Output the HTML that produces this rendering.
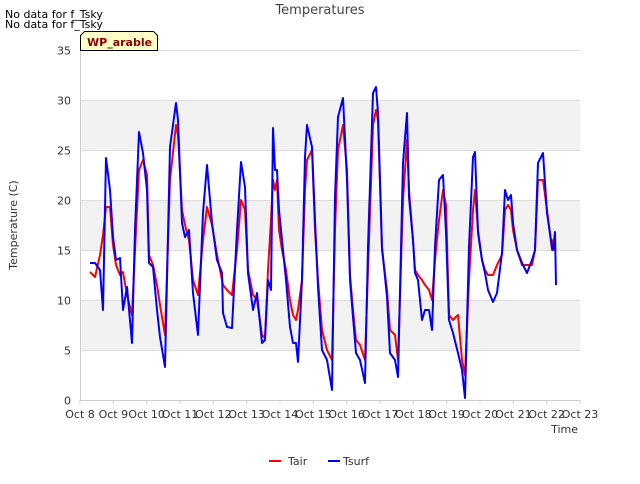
<!DOCTYPE html>
<html><head><meta charset="utf-8"><style>
body{margin:0;background:#fff;font-family:"DejaVu Sans","Liberation Sans",sans-serif;}
svg text{font-family:"DejaVu Sans","Liberation Sans",sans-serif;}
</style></head><body>
<svg id="chart" width="640" height="480" xmlns="http://www.w3.org/2000/svg">
<rect width="640" height="480" fill="#fff"/>
<g id="bands"></g>
<g id="grid"></g>
<g id="axes"></g>
<g id="series"></g>
<text x="5" y="18" font-size="11" fill="#000">No data for f_Tsky</text>
<text x="5" y="28" font-size="11" fill="#000">No data for f_Tsky</text>
<text x="320" y="14" font-size="13" fill="#444" text-anchor="middle">Temperatures</text>
<text transform="translate(17,225) rotate(-90)" font-size="11" fill="#333" text-anchor="middle">Temperature (C)</text>
<text x="578" y="433" font-size="11" fill="#333" text-anchor="end">Time</text>
<g>
<path d="M80.5,50.5 L80.5,35.5 L84.5,31.5 L153.5,31.5 L157.5,35.5 L157.5,50.5 Z" fill="#ffffc8" stroke="#000" stroke-width="1"/>
<text x="87" y="46" font-size="11" font-weight="bold" fill="#8b0000">WP_arable</text>
</g>
<g>
<line x1="269" y1="461" x2="281" y2="461" stroke="#f00" stroke-width="2"/>
<text x="288" y="465" font-size="11" fill="#333">Tair</text>
<line x1="328" y1="461" x2="340" y2="461" stroke="#00f" stroke-width="2"/>
<text x="343" y="465" font-size="11" fill="#333">Tsurf</text>
</g>
</svg>
<script>
const times=[0.30,0.45,0.60,0.69,0.78,0.90,0.99,1.08,1.20,1.29,1.41,1.56,1.65,1.77,1.89,2.01,2.07,2.19,2.31,2.40,2.55,2.70,2.88,2.94,3.06,3.15,3.27,3.39,3.54,3.69,3.81,3.96,4.11,4.26,4.29,4.41,4.56,4.71,4.83,4.95,5.04,5.19,5.31,5.46,5.55,5.64,5.73,5.79,5.85,5.91,5.97,6.06,6.18,6.30,6.39,6.48,6.54,6.66,6.75,6.81,6.96,7.05,7.14,7.26,7.41,7.56,7.65,7.74,7.89,8.01,8.10,8.19,8.28,8.40,8.55,8.64,8.79,8.88,8.94,9.06,9.21,9.30,9.45,9.54,9.69,9.81,9.87,9.99,10.05,10.14,10.26,10.35,10.47,10.56,10.65,10.77,10.89,10.98,11.07,11.19,11.34,11.46,11.55,11.67,11.79,11.85,11.94,12.06,12.15,12.24,12.39,12.51,12.66,12.75,12.84,12.93,12.99,13.11,13.26,13.41,13.56,13.65,13.74,13.89,14.01,14.16,14.19,14.25,14.28];
const tsurf=[13.7,13.7,13.0,9.0,24.2,21,16.3,14,14.2,9,11.3,5.7,17,26.8,24.7,21,13.7,13.3,9,6.3,3.3,25.3,29.7,28,17.7,16.3,17,10.7,6.5,18.7,23.5,17.7,14,12.7,8.7,7.3,7.2,17,23.8,21.3,12.7,9,10.7,5.7,6,12,11,27.2,23,23,19,16,12,7.3,5.7,5.7,3.8,12,24.3,27.5,25.3,18,11.3,5,4,1,20.3,28.3,30.2,22,12,8.3,4.7,4,1.7,15.3,30.7,31.3,28.7,15.3,10.3,4.7,4,2.3,23.7,28.7,20.3,16,12.7,12,8,9,9,7,15.3,22,22.5,16.8,8,6.7,4.7,3,0.2,15.3,24.3,24.8,16.7,14,12.7,11,9.8,10.7,14.7,21,20,20.5,17.7,15,13.7,12.7,14,15,23.7,24.7,18.7,15.3,15,16.8,11.5];
const tair=[12.8,12.3,14.5,16.5,19.3,19.3,15.5,13.5,12.5,12.8,10.5,8.5,15,23,24,22.5,14.5,13.5,11.5,9.5,6.5,22,27.5,26.5,19,17.5,16,12,10.5,16,19.3,17.5,14.5,12,11.5,11,10.5,15,20,19,13,10.5,10,6.5,6.2,13,18,22,21,22,17,15,13,10,8.5,8,9,12,21,24,25,17,12,7,5,4,17,25,27.5,23,12.5,9,6,5.5,4,13,27.5,29,28,15,11,7,6.5,4,20,26,21,16,13,12.5,12,11.5,11,10,14,18,21,19.5,8.5,8,8.5,4,2.5,12,19,21,17,14,13,12.5,12.5,13.5,14.5,19,19.5,19,17,15,13.5,13.5,13.5,15,22,22,19,15,16,15,15];
const yTicks=[0,5,10,15,20,25,30,35];
const xTickLabels=["Oct 8","Oct 9","Oct 10","Oct 11","Oct 12","Oct 13","Oct 14","Oct 15","Oct 16","Oct 17","Oct 18","Oct 19","Oct 20","Oct 21","Oct 22","Oct 23"];
const L=80,R=580,T=50,B=400;
const xs=d=>L+d*(R-L)/15;
const ys=v=>B-v*(B-T)/35;
const NS="http://www.w3.org/2000/svg";
function mk(tag,attrs,parent){const e=document.createElementNS(NS,tag);for(const k in attrs)e.setAttribute(k,attrs[k]);parent.appendChild(e);return e;}
const bands=document.getElementById('bands'),grid=document.getElementById('grid'),axes=document.getElementById('axes'),series=document.getElementById('series');
for(let i=0;i<yTicks.length-1;i++){if(i%2===1){const r=mk('rect',{x:L,y:ys(yTicks[i+1]),width:R-L,height:ys(yTicks[i])-ys(yTicks[i+1]),fill:'#f2f2f2'},bands);

}}
yTicks.forEach(v=>{const y=Math.round(ys(v))+0.5;const g=mk('line',{x1:L,x2:R,y1:y,y2:y,stroke:'#dcdcdc','stroke-width':1},grid);


const t=mk('text',{x:L-9,y:y+4,'font-size':11,fill:'#333','text-anchor':'end'},axes);t.textContent=v;

});
const ax=mk('path',{d:`M${L+0.5},${T} L${L+0.5},${B+0.5} L${R},${B+0.5}`,fill:'none',stroke:'#ccc'},axes);


xTickLabels.forEach((s,i)=>{const x=xs(i);const tk=mk('line',{x1:x,x2:x,y1:B,y2:B+4,stroke:'#ccc'},axes);


const t=mk('text',{x:x,y:B+18,'font-size':11,fill:'#333','text-anchor':'middle'},axes);t.textContent=s;

});
function line(vals,color,name){const d=vals.map((v,i)=>(i?'L':'M')+xs(times[i]).toFixed(1)+','+ys(v).toFixed(1)).join(' ');
const p=mk('path',{d:d,fill:'none',stroke:color,'stroke-width':2,'stroke-linejoin':'round'},series);

}
line(tair,'#f00','tair-line');
line(tsurf,'#00f','tsurf-line');
</script>
</body></html>
